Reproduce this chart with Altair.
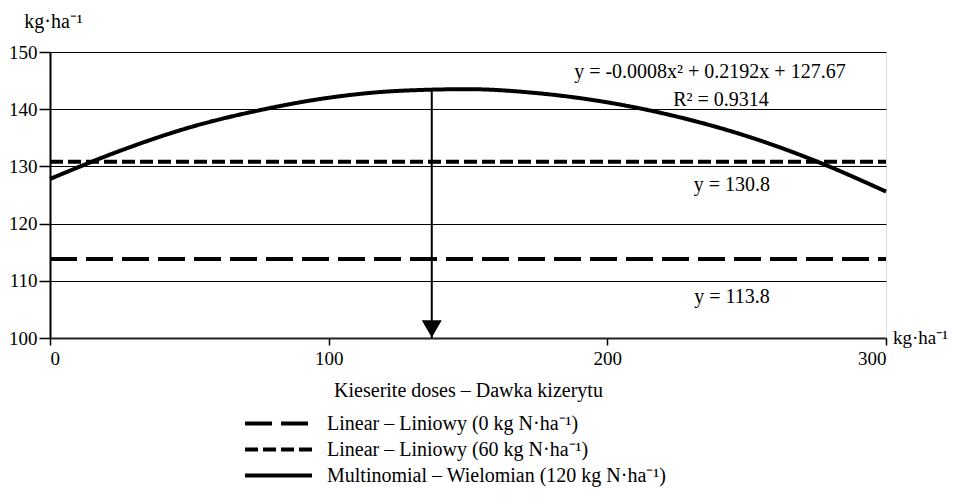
import altair as alt
import pandas as pd

# ---- data ----
curve_x = [0, 25, 50, 75, 100, 125, 150, 175, 200, 225, 250, 275, 300]
curve_y = [127.8, 132.7, 136.8, 139.8, 142.0, 143.2, 143.5, 142.8, 141.2, 138.7, 135.3, 130.9, 125.6]
line_x = [0, 300]
level_0N = 113.8
level_60N = 130.8
series_names = [
    "Linear – Liniowy (0 kg N·ha⁻¹)",
    "Linear – Liniowy (60 kg N·ha⁻¹)",
    "Multinomial – Wielomian (120 kg N·ha⁻¹)",
]
x_ticks = [0, 100, 200, 300]
y_ticks = [100, 110, 120, 130, 140, 150]
arrow_x = 137
arrow_top = 143.4
arrow_head_y = 101.6

ann_text = ["y = -0.0008x² + 0.2192x + 127.67", "R² = 0.9314", "y = 130.8", "y = 113.8"]
ann_x = [236.8, 240.8, 244.7, 244.7]
ann_y = [146.5, 141.6, 126.7, 107.2]

FONT = "Liberation Serif"

rows = []
for xv in line_x:
    rows.append({"x": xv, "y": level_0N, "s": series_names[0]})
for xv in line_x:
    rows.append({"x": xv, "y": level_60N, "s": series_names[1]})
for xv, yv in zip(curve_x, curve_y):
    rows.append({"x": xv, "y": yv, "s": series_names[2]})
df = pd.DataFrame(rows)

xscale = alt.Scale(domain=[0, 300], nice=False)
yscale = alt.Scale(domain=[100, 150], nice=False)

xenc = alt.X("x:Q", scale=xscale, axis=alt.Axis(
    values=x_ticks, title="Kieserite doses – Dawka kizerytu", grid=False,
    tickSize=7, tickColor="black", tickWidth=1.5, domainColor="#222222", domainWidth=2,
    labelPadding=4, titlePadding=12, labelFontSize=19, titleFontSize=20,
    labelFont=FONT, titleFont=FONT, titleFontWeight="normal", labelColor="black", titleColor="black"))
yenc = alt.Y("y:Q", scale=yscale, axis=alt.Axis(
    values=y_ticks, title="kg·ha⁻¹", grid=True, gridColor="black", gridWidth=1.2,
    tickSize=11, tickColor="black", tickWidth=1.5, domainColor="black", domainWidth=2,
    labelPadding=2, labelFontSize=19, titleFontSize=20, labelFont=FONT, titleFont=FONT,
    titleFontWeight="normal", titleAngle=0, titleX=3, titleY=-31, titleAlign="center",
    titleBaseline="middle", labelColor="black", titleColor="black"))

lines = alt.Chart(df).mark_line(color="black", strokeWidth=4, interpolate="monotone").encode(
    x=xenc, y=yenc,
    strokeDash=alt.StrokeDash("s:N", scale=alt.Scale(domain=series_names,
                                                     range=[[27, 9], [13, 5], [1, 0]]),
                              legend=alt.Legend(orient="none", legendX=218, legendY=361, title=None,
                                                symbolType="M-4,0H4", symbolSize=280,
                                                symbolStrokeWidth=4, symbolStrokeColor="black",
                                                labelFont=FONT, labelFontSize=20, labelColor="black",
                                                labelLimit=600, labelOffset=38, rowPadding=5)),
    detail="s:N",
)

arrow_df = pd.DataFrame({"x": [arrow_x], "y": [arrow_top], "y2": [100], "yh": [arrow_head_y]})
arrow = alt.Chart(arrow_df).mark_rule(color="black", strokeWidth=2).encode(
    x=alt.X("x:Q", scale=xscale), y=alt.Y("y:Q", scale=yscale), y2="y2:Q")
head = alt.Chart(arrow_df).mark_point(shape="triangle-down", filled=True, color="black",
                                      size=400, opacity=1).encode(
    x=alt.X("x:Q", scale=xscale), y=alt.Y("yh:Q", scale=yscale))

ann_df = pd.DataFrame({"x": ann_x, "y": ann_y, "t": ann_text})
ann = alt.Chart(ann_df).mark_text(font=FONT, fontSize=20, color="black", align="center",
                                  baseline="middle").encode(
    x=alt.X("x:Q", scale=xscale), y=alt.Y("y:Q", scale=yscale), text="t:N")

unit_df = pd.DataFrame({"x": [302.5], "y": [100], "t": ["kg·ha⁻¹"]})
unit = alt.Chart(unit_df).mark_text(font=FONT, fontSize=19, color="black", align="left",
                                    baseline="middle", dy=0, clip=False).encode(
    x=alt.X("x:Q", scale=xscale), y=alt.Y("y:Q", scale=yscale), text="t:N")

chart = alt.layer(lines, arrow, head, ann, unit).properties(
    width=836, height=286,
    autosize="none",
    padding={"left": 50, "top": 52, "right": 67, "bottom": 162},
).configure_view(fill="#FCF6CC", stroke="#555555", strokeWidth=2).configure(background="white")

chart.save("out.html", embed_options={"renderer": "svg", "actions": False})
